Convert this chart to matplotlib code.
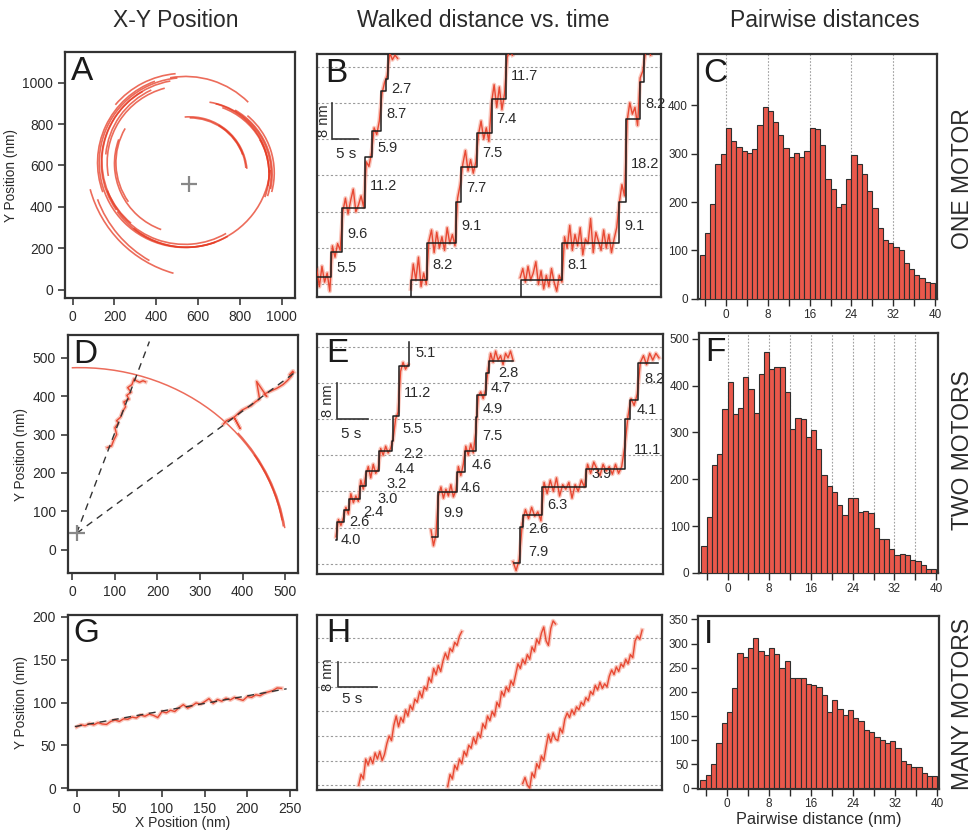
import numpy as np
import matplotlib.pyplot as plt
from matplotlib.patches import Arc
from matplotlib import font_manager

# ---------------- fonts ----------------
_names = {f.name for f in font_manager.fontManager.ttflist}
plt.rcParams["font.family"] = ["Liberation Sans", "DejaVu Sans"]
NARROW = "Liberation Sans Narrow" if "Liberation Sans Narrow" in _names else "Liberation Sans"

# ---------------- data ----------------
# A: one-motor trajectories as arcs (cx, cy, r, theta1, theta2) in nm / deg
arcs_A = [
    (537, 614, 410, 95, 355),
    (540, 605, 425, 45, 100),
    (530, 620, 425, 95, 140),
    (537, 614, 400, 100, 215),
    (537, 614, 418, 110, 200),
    (530, 620, 390, 120, 230),
    (537, 614, 372, 105, 190),
    (537, 620, 380, 115, 175),
    (537, 614, 330, 150, 215),
    (540, 610, 340, 160, 250),
    (537, 614, 395, 200, 300),
    (545, 610, 405, 215, 290),
    (545, 600, 395, 230, 300),
    (642, 635, 578, 195, 254),
    (650, 630, 565, 200, 240),
    (600, 560, 350, -18, 81),
    (600, 560, 340, -10, 70),
    (605, 565, 360, -15, 50),
    (600, 560, 355, -12, 60),
    (595, 565, 345, 0, 75),
    (610, 560, 330, -20, 30),
    (560, 560, 275, 5, 95),
    (565, 565, 265, 5, 60),
    (560, 560, 270, 20, 90),
]
cross_A = (556, 509)

# D: two-motor trajectories
arcs_D = [(17, -10, 484, 8.4, 92.2), (12, -12, 492, 8, 40), (22, -6, 478, 10, 32)]
cross_D = (10, 43)
dash_D_x = [181, 520]
dash_D_y = [542, 459]
d1_x = [82, 92, 97, 104, 100, 108, 104, 113, 118, 125, 121, 133, 128, 138, 130, 140, 145, 150, 158, 166, 172]
d1_y = [266, 270, 285, 300, 318, 330, 336, 345, 360, 372, 385, 392, 402, 410, 422, 430, 445, 440, 436, 440, 437]
d2_x = [355, 362, 370, 380, 394, 380, 398, 410, 420, 430, 440, 433, 457, 450, 470, 480, 495, 505, 515, 518, 510, 520]
d2_y = [327, 336, 340, 345, 316, 345, 363, 370, 375, 385, 392, 438, 399, 405, 415, 420, 430, 440, 452, 465, 455, 462]

# G: many-motor trajectory
g_x = [0, 5, 10, 15, 20, 25, 30, 35, 40, 45, 50, 55, 60, 65, 70, 75, 80, 85, 90, 95,
       100, 105, 110, 115, 120, 125, 130, 135, 140, 145, 150, 155, 160, 165, 170, 175,
       180, 185, 190, 195, 200, 205, 210, 215, 220, 225, 230, 235, 240]
g_y = [71.5, 74.0, 73.0, 75.5, 74.0, 76.5, 75.0, 74.5, 78.0, 79.5, 78.0, 81.0, 80.5, 83.0,
       82.0, 85.5, 84.0, 86.5, 85.0, 82.5, 89.5, 88.0, 91.0, 89.5, 94.0, 97.5, 93.5, 96.0,
       99.5, 98.0, 101.0, 104.5, 99.0, 103.5, 101.5, 105.0, 103.0, 106.0, 104.0, 102.5,
       107.0, 106.0, 109.0, 108.0, 111.0, 112.5, 114.0, 117.0, 116.5]
g_fit_x = [-2, 246]
g_fit_y = [72, 116]

# B: one-motor stepping traces (fitted staircases + step sizes in nm)
B_start = [0.0, 18.1, 39.1]
B_level0 = [1.7, 0.96, 0.96]
B_step_t = [[2.76, 4.9, 9.2, 10.6, 12.4, 13.3],
            [21.2, 26.7, 27.6, 30.8, 33.5, 36.2],
            [47.1, 58.0, 59.3, 61.9]]
B_steps = [[5.5, 9.6, 11.2, 5.9, 8.7, 2.7],
           [8.2, 9.1, 7.7, 7.5, 7.4, 11.7],
           [8.1, 9.1, 18.2, 8.2]]
B_exit = [13.6, None, 62.8]
B_end = [13.6, 36.5, 62.8]
B_red_t0 = [0.0, 18.0, 39.0]
B_red = [
    [3.5, -0.5, 4.0, 0.5, 2.5, -1.5, 8.5, 6.0, 9.0, 7.5, 16.0, 19.0, 15.5, 18.5, 21.0, 16.0,
     17.5, 19.5, 17.0, 27.0, 26.0, 29.0, 34.5, 33.0, 36.0, 42.0, 44.5, 46.0, 51.0, 49.5, 50.5, 49.8],
    [-1.0, 4.5, 1.0, 6.0, -0.5, 2.5, 0.0, 9.5, 12.0, 7.0, 11.5, 8.0, 10.5, 7.5, 12.5, 9.0, 11.0,
     8.5, 19.0, 22.0, 26.5, 29.5, 25.0, 27.5, 24.5, 27.0, 33.0, 36.0, 32.0, 34.5, 31.5, 40.0, 44.0,
     39.0, 43.5, 38.5, 42.0, 50.0, 51.5, 50.5],
    [1.5, 3.5, 0.5, 4.0, 1.0, 2.5, 5.0, 0.0, 3.0, -1.0, 2.0, -0.5, 3.5, 0.5, -1.5, 2.0, 0.5, 10.5,
     8.0, 13.0, 7.5, 11.0, 8.5, 12.5, 6.5, 10.0, 9.0, 14.5, 7.0, 11.5, 9.5, 7.5, 12.0, 8.0, 11.0,
     7.0, 10.0, 12.5, 18.0, 22.0, 19.5, 36.0, 40.0, 37.5, 39.0, 35.0, 45.5, 47.0, 51.0, 52.0, 50.5],
]
B_red_dt = 0.5

# E: two-motor stepping traces
E_start = [2.96, 18.5, 31.6]
E_level0 = [5.3, 5.9, 0.2]
E_step_t = [[3.1, 4.35, 5.16, 6.9, 7.8, 9.95, 12.0, 12.26, 13.2, 14.7],
            [19.35, 22.5, 23.7, 25.5, 25.75, 27.2, 27.6],
            [32.65, 33.1, 36.2, 43.2, 49.5, 50.4, 51.7]]
E_steps = [[4.0, 2.6, 2.4, 3.0, 3.2, 4.4, 2.2, 5.5, 11.2, 5.1],
           [9.9, 4.6, 4.6, 7.5, 4.9, 4.7, 2.8],
           [7.9, 2.6, 6.3, 3.9, 11.1, 4.1, 8.2]]
E_end = [14.7, 31.5, 54.9]
E_red_t0 = [3.0, 18.3, 31.5]
E_red_dt = [0.4, 0.4, 0.5]
E_red = [
    [6.0, 9.8, 8.5, 10.2, 12.5, 11.0, 15.5, 13.5, 15.0, 13.8, 18.5, 16.5, 19.5, 21.5, 19.0, 22.0,
     20.0, 21.0, 25.5, 24.0, 26.0, 24.5, 25.5, 27.5, 32.0, 33.5, 42.5, 44.5, 43.0, 44.0],
    [7.5, 4.0, 6.5, 15.0, 17.0, 14.5, 16.5, 15.0, 17.5, 14.8, 16.2, 21.5, 19.5, 22.0, 26.0, 24.0,
     26.5, 24.5, 29.0, 37.0, 38.0, 36.5, 38.5, 43.0, 46.5, 44.5, 47.0, 45.0, 46.0, 44.0, 46.5,
     45.5, 47.0, 45.0],
    [0.5, -1.5, 1.0, 9.0, 12.0, 10.0, 12.5, 10.5, 11.5, 9.5, 18.0, 15.5, 18.5, 16.0, 19.0, 15.0,
     17.5, 16.5, 18.0, 14.5, 17.5, 16.0, 18.5, 17.0, 22.0, 20.0, 22.5, 21.0, 19.5, 22.0, 20.5,
     21.5, 19.8, 22.0, 20.0, 21.5, 26.0, 32.5, 36.5, 35.0, 37.5, 44.5, 46.0, 44.0, 46.5, 45.0,
     46.5, 45.5],
]

# H: many-motor traces (continuous motion)
H_red_t0 = [5.3, 16.7, 26.3]
H_red_dt = 0.3
H_red = [
    [0.0, 3.5, 2.0, 8.5, 6.5, 9.0, 7.0, 10.5, 8.5, 11.0, 8.0, 10.0, 13.5, 16.0, 14.5, 19.5, 22.5,
     19.0, 22.0, 20.5, 24.5, 22.5, 26.0, 24.5, 28.0, 27.0, 30.5, 28.5, 32.0, 31.0, 35.0, 33.5,
     38.0, 36.0, 39.0, 37.0, 40.5, 43.0, 41.0, 44.5, 43.5, 46.5, 45.5, 48.5, 50.0],
    [-0.5, 3.5, 2.0, 6.5, 5.0, 8.5, 7.0, 11.0, 9.5, 13.0, 12.0, 15.5, 13.5, 17.0, 15.5, 20.0,
     18.5, 22.5, 21.0, 24.0, 22.5, 27.0, 25.5, 30.5, 29.0, 32.0, 30.5, 34.0, 32.5, 36.0, 39.5,
     38.0, 41.0, 39.5, 42.5, 41.0, 45.0, 43.5, 47.5, 46.0, 49.5, 51.5, 47.0, 45.5, 51.0, 53.5, 52.5],
    [0.5, 2.5, 0.0, -1.0, 4.0, 2.5, 7.0, 5.5, 9.5, 8.0, 12.5, 16.5, 14.0, 17.0, 15.0, 14.5, 18.5,
     17.0, 21.5, 23.5, 22.0, 24.5, 23.0, 25.5, 24.5, 27.0, 26.0, 28.5, 27.5, 30.5, 29.5, 32.5,
     31.0, 33.5, 31.5, 33.0, 32.0, 35.5, 37.5, 36.0, 38.5, 37.0, 39.5, 38.5, 41.0, 39.5, 42.5,
     41.5, 47.0, 48.5, 47.5, 50.5],
]

# C, F, I: pairwise-distance histograms (counts per 1 nm bin, bins start at -5 nm)
bin_left = np.arange(-5, 40)
hist_C = [90, 135, 195, 278, 300, 352, 325, 313, 306, 301, 310, 360, 397, 388, 365, 338, 312,
          292, 302, 294, 305, 352, 350, 317, 248, 227, 190, 195, 247, 297, 278, 258, 222, 188,
          146, 122, 116, 108, 100, 74, 62, 50, 44, 35, 32]
hist_F = [58, 120, 230, 255, 350, 407, 340, 353, 418, 392, 342, 425, 472, 435, 441, 441, 387,
          307, 332, 328, 290, 305, 264, 210, 185, 173, 146, 123, 160, 161, 131, 133, 127, 96,
          72, 72, 51, 38, 40, 39, 27, 26, 17, 9, 9]
hist_I = [17, 27, 51, 93, 135, 158, 207, 280, 272, 291, 311, 285, 276, 291, 279, 249, 264, 228,
          228, 228, 217, 215, 209, 193, 157, 183, 165, 152, 163, 145, 140, 120, 116, 106, 101,
          93, 97, 84, 57, 50, 43, 44, 32, 25, 26]

# ---------------- styling ----------------
RED = "#E63B24"
HALO = "#F59A88"
BAR = "#E9584B"
FRAME = "#333333"
TXT = "#2a2a2a"

fig = plt.figure(figsize=(9.74, 8.31), dpi=100)


def frame(ax, lw=1.6):
    for s in ax.spines.values():
        s.set_linewidth(lw)
        s.set_color(FRAME)


def letter(ax, s, x=0.025):
    ax.text(x, 0.985, s, transform=ax.transAxes, ha="left", va="top",
            fontsize=24, color="#1a1a1a", zorder=10)


def red_trace(ax, x, y):
    ax.plot(x, y, color=HALO, lw=3.0, alpha=0.55, solid_joinstyle="round", zorder=2)
    ax.plot(x, y, color=RED, lw=1.0, alpha=0.9, zorder=3)


def staircase(ax, t0, lev0, ts, steps, t_end, lead=False, exit_t=None):
    levels = lev0 + np.concatenate([[0.0], np.cumsum(steps)])
    xs, ys = [], []
    if lead:
        xs.append(t0); ys.append(-10)
    xs.append(t0); ys.append(levels[0])
    for i, t in enumerate(ts):
        xs += [t, t]; ys += [levels[i], levels[i + 1]]
    xs.append(t_end); ys.append(levels[-1])
    if exit_t is not None:
        xs.append(exit_t); ys.append(80)
    ax.plot(xs, ys, color="#1e1e1e", lw=1.1, zorder=4)
    return levels


def trace_panel(ax, ylim, xlim, bar_t, bar_w):
    ax.set_xlim(*xlim)
    ax.set_ylim(*ylim)
    ax.set_xticks([]); ax.set_yticks([])
    for g in range(0, 49, 8):
        ax.axhline(g, color="#9a9a9a", lw=0.8, ls=(0, (2, 2)), zorder=1)
    ax.plot([bar_t, bar_t, bar_t + bar_w], [40, 32, 32], color="#333", lw=1.2, zorder=5)
    ax.text(bar_t - 0.3, 36, "8 nm", rotation=90, ha="right", va="center", fontsize=10.5, color=TXT)
    ax.text(bar_t + 0.6, 30.2, "5 s", ha="left", va="top", fontsize=11, color=TXT)
    frame(ax)


def step_labels(ax, ts, steps, levels, dxs, dys):
    for i, (t, s) in enumerate(zip(ts, steps)):
        mid = 0.5 * (levels[i] + levels[i + 1])
        ax.text(t + dxs[i], mid + dys[i], f"{s:.1f}", ha="left", va="center",
                fontsize=10.5, family=NARROW, color=TXT, zorder=6)


def xy_panel(ax):
    ax.tick_params(labelsize=10, colors=TXT, length=5, width=1.1, direction="out")
    ax.set_ylabel("Y Position (nm)", fontsize=9.8, color=TXT, labelpad=3)
    frame(ax)


def hist_panel(ax, counts, ymax, yticks, grid):
    ax.bar(bin_left, counts, width=1.0, align="edge", color=BAR, edgecolor="#2e2e2e",
           lw=0.8, zorder=3)
    ax.set_xlim(-5.4, 40.3)
    ax.set_ylim(-1, ymax)
    xt = list(range(-4, 41, 4))
    ax.set_xticks(xt)
    ax.set_xticklabels(["" if v % 8 else str(v) for v in xt])
    ax.set_yticks(yticks)
    for lab in ax.get_xticklabels() + ax.get_yticklabels():
        lab.set_family(NARROW)
    ax.tick_params(labelsize=8.5, colors=TXT, length=5, width=1.0, direction="out", pad=2)
    for g in grid:
        ax.axvline(g, color="#a0a0a0", lw=0.8, ls=(0, (1.5, 1.5)), zorder=1)
    frame(ax)


# ---------------- A ----------------
axA = fig.add_axes([0.0667, 0.6414, 0.2361, 0.296])
for cx, cy, r, t1, t2 in arcs_A:
    axA.add_patch(Arc((cx, cy), 2 * r, 2 * r, theta1=t1, theta2=t2, color=RED, lw=1.2, alpha=0.75))
axA.plot(*cross_A, marker="+", color="#888888", ms=12, mew=1.6)
axA.set_xlim(-37, 1064)
axA.set_ylim(-40, 1148)
axA.set_xticks(range(0, 1001, 200))
axA.set_yticks(range(0, 1001, 200))
xy_panel(axA)
letter(axA, "A")

# ---------------- D ----------------
axD = fig.add_axes([0.0695, 0.3101, 0.2368, 0.2868])
for cx, cy, r, t1, t2 in arcs_D:
    axD.add_patch(Arc((cx, cy), 2 * r, 2 * r, theta1=t1, theta2=t2, color=RED, lw=1.1, alpha=0.75))
for ex, ey in zip(dash_D_x, dash_D_y):
    axD.plot([cross_D[0], ex], [cross_D[1], ey], color="#333", lw=1.0, ls=(0, (5, 4)), zorder=5)
red_trace(axD, d1_x, d1_y)
red_trace(axD, d2_x, d2_y)
axD.plot(*cross_D, marker="+", color="#888888", ms=12, mew=1.6, zorder=6)
axD.set_xlim(-11, 531)
axD.set_ylim(-61, 559)
axD.set_xticks(range(0, 501, 100))
axD.set_yticks(range(0, 501, 100))
xy_panel(axD)
letter(axD, "D")

# ---------------- G ----------------
axG = fig.add_axes([0.0695, 0.0493, 0.2351, 0.2106])
red_trace(axG, g_x, g_y)
axG.plot(g_fit_x, g_fit_y, color="#333", lw=1.0, ls=(0, (5, 4)), zorder=5)
axG.set_xlim(-10.5, 257.8)
axG.set_ylim(-2, 202)
axG.set_xticks(range(0, 251, 50))
axG.set_yticks(range(0, 201, 50))
xy_panel(axG)
axG.set_xlabel("X Position (nm)", fontsize=10, color=TXT, labelpad=0)
letter(axG, "G")

# ---------------- B ----------------
axB = fig.add_axes([0.3252, 0.643, 0.3535, 0.2917])
trace_panel(axB, (-2.7, 50.7), (0, 66), 3.0, 5.0)
for k in range(3):
    tt = B_red_t0[k] + B_red_dt * np.arange(len(B_red[k]))
    red_trace(axB, tt, B_red[k])
    lv = staircase(axB, B_start[k], B_level0[k], B_step_t[k], B_steps[k], B_end[k],
                   lead=k > 0, exit_t=B_exit[k])
    n = len(B_steps[k])
    step_labels(axB, B_step_t[k], B_steps[k], lv, [1.0] * n, [-0.8] * n)
letter(axB, "B")

# ---------------- E ----------------
axE = fig.add_axes([0.3258, 0.3089, 0.3546, 0.2888])
trace_panel(axE, (-2.3, 50.7), (0, 55.6), 3.2, 5.0)
E_dx = [[0.66, 0.81, 2.24, 2.8, 3.3, 2.45, 1.9, 1.44, 0.8, 1.05],
        [1.0, 0.5, 1.2, 1.0, 0.8, 0.7, 1.6],
        [1.25, 0.8, 0.8, 1.0, 1.5, 1.0, 0.9]]
E_dy = [[-2.0, -1.3, -1.6, -1.5, -1.3, -1.8, -1.8, 0.0, -0.4, 0.15],
        [0.3, -1.4, -0.9, -0.6, -0.7, -1.0, -1.4],
        [-1.45, -1.7, -0.8, 0.9, -1.4, 0.0, 0.7]]
for k in range(3):
    tt = E_red_t0[k] + E_red_dt[k] * np.arange(len(E_red[k]))
    red_trace(axE, tt, E_red[k])
    lv = staircase(axE, E_start[k], E_level0[k], E_step_t[k], E_steps[k], E_end[k])
    step_labels(axE, E_step_t[k], E_steps[k], lv, E_dx[k], E_dy[k])
letter(axE, "E")

# ---------------- H ----------------
axH = fig.add_axes([0.3258, 0.0493, 0.3535, 0.2106])
trace_panel(axH, (-1.6, 55.4), (0, 44.1), 2.6, 5.0)
for k in range(3):
    tt = H_red_t0[k] + H_red_dt * np.arange(len(H_red[k]))
    red_trace(axH, tt, H_red[k])
letter(axH, "H")

# ---------------- C / F / I ----------------
axC = fig.add_axes([0.7163, 0.6398, 0.2454, 0.2948])
hist_panel(axC, hist_C, 505, range(0, 401, 100), range(0, 33, 8))
letter(axC, "C")

axF = fig.add_axes([0.718, 0.3101, 0.2448, 0.2888])
hist_panel(axF, hist_F, 512, range(0, 501, 100), range(0, 37, 4))
letter(axF, "F")

axI = fig.add_axes([0.717, 0.0509, 0.2471, 0.2078])
hist_panel(axI, hist_I, 357, range(0, 351, 50), [])
axI.set_xlabel("Pairwise distance (nm)", fontsize=11.7, color=TXT, labelpad=1)
letter(axI, "I")

# ---------------- titles ----------------
for x, s in [(0.18, "X-Y Position"), (0.496, "Walked distance vs. time"), (0.847, "Pairwise distances")]:
    fig.text(x, 0.975, s, ha="center", va="center", fontsize=16.5, color=TXT)
for y, s in [(0.785, "ONE MOTOR"), (0.458, "TWO MOTORS"), (0.153, "MANY MOTORS")]:
    fig.text(0.988, y, s, rotation=90, ha="center", va="center", fontsize=16.5, color=TXT)

fig.savefig("out.png", dpi=100)
